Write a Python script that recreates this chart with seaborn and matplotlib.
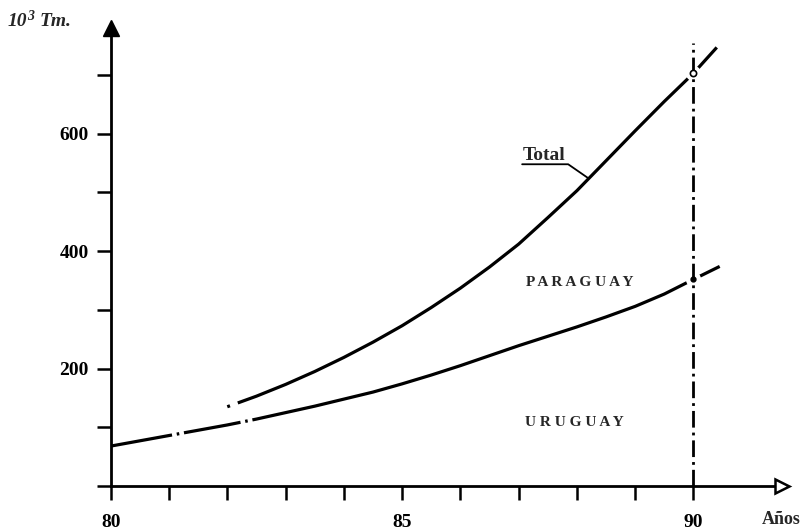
import matplotlib
matplotlib.use("Agg")
import matplotlib.pyplot as plt
import seaborn as sns
import pandas as pd

# Production (thousand tonnes) by year
total_years = [82.0, 82.5, 83.0, 83.5, 84.0, 84.5, 85.0, 85.5, 86.0, 86.5,
               87.0, 87.5, 88.0, 88.5, 89.0, 89.5, 90.0, 90.4]
total_values = [135, 153, 173, 195, 219, 245, 273, 304, 337, 373,
                412, 457, 503, 554, 605, 655, 703, 747]

uruguay_years = [80.0, 80.5, 81.0, 81.5, 82.0, 82.5, 83.0, 83.5, 84.0, 84.5,
                 85.0, 85.5, 86.0, 86.5, 87.0, 87.5, 88.0, 88.5, 89.0, 89.5,
                 90.0, 90.45]
uruguay_values = [68, 77, 86, 95, 104, 114, 125, 136, 148, 160,
                  174, 189, 205, 222, 239, 255, 271, 288, 306, 327,
                  352, 374]

x_ticks = list(range(80, 91))
x_tick_labels = ["80", "", "", "", "", "85", "", "", "", "", "90"]
y_ticks = [0, 100, 200, 300, 400, 500, 600, 700]
y_tick_labels = ["", "", "200", "", "400", "", "600", ""]
cutoff_year = 90

sns.set_style("ticks")
plt.rcParams["font.family"] = ["Liberation Serif", "DejaVu Serif"]
plt.rcParams["font.weight"] = "bold"

fig = plt.figure(figsize=(8.03, 5.31), dpi=100)
ax = fig.add_axes([0.1379, 0.0847, 0.836, 0.8625])
ax.set_xlim(80, 91.52)
ax.set_ylim(0, 780)

total_df = pd.DataFrame({"year": total_years, "value": total_values})
uru_df = pd.DataFrame({"year": uruguay_years, "value": uruguay_values})

lw = 2.3
sns.lineplot(data=uru_df, x="year", y="value", ax=ax, color="black",
             lw=lw, zorder=2, estimator=None, sort=True)
ax.get_lines()[-1].set_dashes([19.5, 1.5, 0.8, 1.5, 18, 1.5, 0.8, 1.5, 2000, 0])
sns.lineplot(data=total_df, x="year", y="value", ax=ax, color="black",
             lw=lw, zorder=2, estimator=None, sort=True)
ax.get_lines()[-1].set_dashes([0.9, 2.6, 2000, 0])

# Break both curves where they cross the 1990 line
u90 = uruguay_values[uruguay_years.index(cutoff_year)]
t90 = total_values[total_years.index(cutoff_year)]
ax.plot([cutoff_year, cutoff_year], [u90, t90], ls="none", marker="o",
        ms=11, mfc="white", mec="none", zorder=3)
ax.axvline(cutoff_year, ymax=755 / 780, color="black", lw=2.0,
           dashes=(6, 1.8, 1, 1.8), zorder=4)
ax.plot([cutoff_year], [t90], ls="none", marker="o", ms=4.5, mfc="white",
        mec="black", mew=1.2, zorder=5)
ax.plot([cutoff_year], [u90], ls="none", marker="o", ms=3.5, color="black",
        zorder=5)

# Axes styling
for side in ("top", "right"):
    ax.spines[side].set_visible(False)
for side in ("left", "bottom"):
    ax.spines[side].set_linewidth(2.0)
    ax.spines[side].set_color("black")

ax.set_xticks(x_ticks)
ax.set_xticklabels(x_tick_labels)
ax.set_yticks(y_ticks)
ax.set_yticklabels(y_tick_labels)
ax.tick_params(axis="x", bottom=True, direction="out", length=10, width=1.8,
               pad=10, labelsize=14, colors="black")
ax.tick_params(axis="y", left=True, direction="out", length=10, width=1.8,
               pad=6, labelsize=14, colors="black")
for lab in ax.get_xticklabels() + ax.get_yticklabels():
    lab.set_fontweight("bold")
ax.set_xlabel("")
ax.set_ylabel("")

# Arrow heads at the ends of the axes
ax.plot([80], [780], marker="^", ms=11, color="black", clip_on=False, zorder=6)
ax.plot([91.52], [0], marker=">", ms=10, mfc="white", mec="black", mew=1.8,
        clip_on=False, zorder=6)

# Labels
ax.text(87.44, 563, "Total", ha="center", va="center", fontsize=14,
        fontweight="bold")
ax.plot([87.06, 87.85, 88.19], [548, 548, 524.6], color="black", lw=1.3,
        zorder=2)
ax.text(88.05, 347, "P A R A G U A Y", ha="center", va="center",
        fontsize=11, fontweight="bold")
ax.text(87.96, 109, "U R U G U A Y", ha="center", va="center",
        fontsize=11, fontweight="bold")

fig.text(8 / 803, 1 - 22 / 531, "10", ha="left", va="center", fontsize=14,
         fontweight="bold", fontstyle="italic")
fig.text(27 / 803, 1 - 16 / 531, "3", ha="left", va="center", fontsize=10,
         fontweight="bold", fontstyle="italic")
fig.text(40 / 803, 1 - 22 / 531, "Tm.", ha="left", va="center", fontsize=14,
         fontweight="bold", fontstyle="italic")
fig.text(762 / 803, 1 - 520 / 531, "Años", ha="left", va="center",
         fontsize=13, fontweight="bold")

fig.savefig("out.png", dpi=100, facecolor="white")
